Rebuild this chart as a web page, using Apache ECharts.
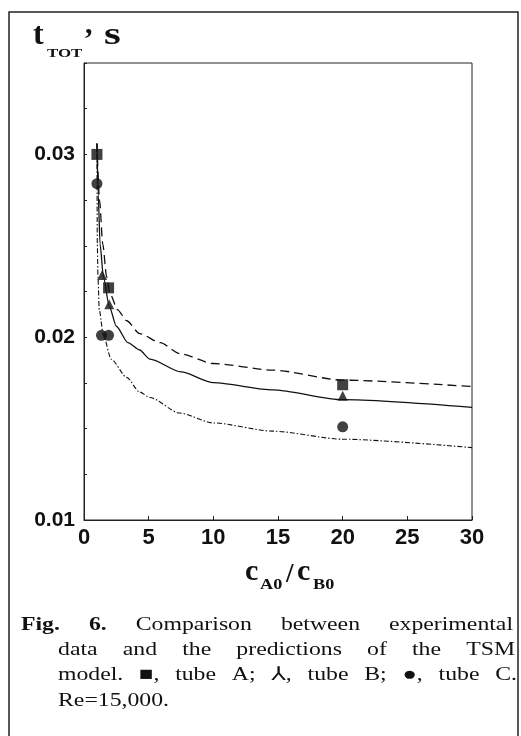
<!DOCTYPE html>
<html>
<head>
<meta charset="utf-8">
<script src="https://cdn.jsdelivr.net/npm/echarts@6/dist/echarts.min.js"></script>
<style>
html,body{margin:0;padding:0;background:#fff;}
#chart{width:521px;height:736px;}
</style>
</head>
<body>
<div id="chart"></div>
<script>
// ---- data ----
const xTicks = [0, 5, 10, 15, 20, 25, 30];
const yTickLabels = ['0.01', '0.02', '0.03'];

// model predictions (lines)
const modelA_x = [1, 1.2, 1.45, 1.75, 2, 2.6, 3.3, 4.3, 5.9, 7.4, 10, 14.6, 20, 30];
const modelA_y = [0.0306, 0.0275, 0.0251, 0.0233, 0.0224, 0.0215, 0.0209, 0.0202, 0.0197, 0.0191, 0.01856, 0.0182, 0.01765, 0.0173];
const modelB_x = [1, 1.1, 1.24, 1.5, 1.95, 2.5, 3.4, 4.3, 5.1, 7.5, 10, 14.6, 20, 30];
const modelB_y = [0.0306, 0.0278, 0.0251, 0.0233, 0.0217, 0.0206, 0.0197, 0.0193, 0.0188, 0.0181, 0.01751, 0.01712, 0.01658, 0.01616];
const modelC_x = [1, 1.03, 1.08, 1.18, 1.5, 2.1, 3.3, 4.3, 5.1, 7.4, 10, 14.6, 20, 30];
const modelC_y = [0.0306, 0.0251, 0.0233, 0.0215, 0.0201, 0.0188, 0.0178, 0.0170, 0.0167, 0.01585, 0.01531, 0.01486, 0.01442, 0.01396];

// experimental data (markers)
const tubeA_x = [1, 1.9, 20];
const tubeA_y = [0.0300, 0.0227, 0.0174];
const tubeB_x = [1.4, 1.95, 20];
const tubeB_y = [0.0234, 0.0218, 0.0168];
const tubeC_x = [1, 1.35, 1.9, 20];
const tubeC_y = [0.0284, 0.0201, 0.0201, 0.0151];

// caption text
const captionLines = [
  [{t:'Fig.', b:true}, {t:'6.', b:true}, {t:'Comparison'}, {t:'between'}, {t:'experimental'}],
  [{t:'data'}, {t:'and'}, {t:'the'}, {t:'predictions'}, {t:'of'}, {t:'the'}, {t:'TSM'}],
  [{t:'model.'}, {t:'\u25A0,'}, {t:'tube'}, {t:'A;'}, {t:'\u2144,'}, {t:'tube'}, {t:'B;'}, {t:'\u25CF,'}, {t:'tube'}, {t:'C.'}],
  [{t:'Re=15,000.'}]
];

function pairs(xs, ys) { return xs.map((x, i) => [x, ys[i]]); }

const INK = '#111';
const SERIF = '"Liberation Serif", "Times New Roman", "DejaVu Serif", serif';
const SANS = '"Liberation Sans", Arial, sans-serif';
const CAP_SX = 1.25;

const chart = echarts.init(document.getElementById('chart'), null, {renderer: 'canvas'});

// ---- caption layout (justified) ----
const mctx = document.createElement('canvas').getContext('2d');
function fontOf(w) { return (w.b ? 'bold ' : '') + '19px ' + SERIF + ', "DejaVu Sans"'; }
const capSpec = [
  {x0: 21, x1: 513, yMid: 625.5, justify: true},
  {x0: 58, x1: 515, yMid: 650.5, justify: true},
  {x0: 58, x1: 517, yMid: 675.5, justify: true},
  {x0: 58, x1: 517, yMid: 701.5, justify: false}
];
const captionEls = [];
captionLines.forEach((words, li) => {
  const sp = capSpec[li];
  const widths = words.map(w => { mctx.font = fontOf(w); return mctx.measureText(w.t).width * CAP_SX; });
  const total = widths.reduce((a, b) => a + b, 0);
  const gap = (sp.justify && words.length > 1) ? (sp.x1 - sp.x0 - total) / (words.length - 1) : 6;
  let x = sp.x0;
  words.forEach((w, i) => {
    captionEls.push({
      type: 'text', x: x, y: sp.yMid, scaleX: CAP_SX, silent: true,
      style: {text: w.t, font: fontOf(w), fill: INK, align: 'left', verticalAlign: 'middle',
              textAlign: 'left', textVerticalAlign: 'middle'}
    });
    x += widths[i] + gap;
  });
});

function txt(text, x, y, font, sx) {
  return {
    type: 'text', x: x, y: y, scaleX: sx || 1, silent: true,
    style: {text: text, font: font, fill: INK, align: 'left', verticalAlign: 'middle',
            textAlign: 'left', textVerticalAlign: 'middle'}
  };
}

const option = {
  backgroundColor: '#fff',
  animation: false,
  grid: {left: 84, top: 63, right: 49, bottom: 216, show: true, borderColor: '#222', borderWidth: 1, backgroundColor: 'transparent'},
  xAxis: {
    type: 'value', min: xTicks[0], max: xTicks[xTicks.length - 1], interval: 5,
    axisLine: {show: true, onZero: false, lineStyle: {color: '#222', width: 1}},
    axisTick: {show: true, inside: true, length: 4, lineStyle: {color: '#222'}},
    axisLabel: {show: true, margin: 7, fontFamily: SANS, fontWeight: 'bold', fontSize: 22, color: INK,
                formatter: v => (xTicks.indexOf(v) >= 0 ? String(v) : '')},
    splitLine: {show: false}
  },
  yAxis: {
    type: 'value', min: 0.01, max: 0.035, interval: 0.0025,
    axisLine: {show: true, onZero: false, lineStyle: {color: '#222', width: 1}},
    axisTick: {show: true, inside: true, length: 3, lineStyle: {color: '#222'}},
    axisLabel: {show: true, margin: 9, fontFamily: SANS, fontWeight: 'bold', fontSize: 21, color: INK,
                formatter: v => {
                  const s = v.toFixed(2);
                  return (Math.abs(v * 100 - Math.round(v * 100)) < 1e-6 && yTickLabels.indexOf(s) >= 0) ? s : '';
                }},
    splitLine: {show: false}
  },
  series: [
    {name: 'TSM tube A', type: 'line', data: pairs(modelA_x, modelA_y), showSymbol: false, symbol: 'none',
     smooth: 0.25, smoothMonotone: 'x', lineStyle: {color: INK, width: 1.3, type: [9, 5]}, z: 2},
    {name: 'TSM tube B', type: 'line', data: pairs(modelB_x, modelB_y), showSymbol: false, symbol: 'none',
     smooth: 0.25, smoothMonotone: 'x', lineStyle: {color: INK, width: 1.3, type: 'solid'}, z: 2},
    {name: 'TSM tube C', type: 'line', data: pairs(modelC_x, modelC_y), showSymbol: false, symbol: 'none',
     smooth: 0.25, smoothMonotone: 'x', lineStyle: {color: INK, width: 1.1, type: [5, 2, 1.5, 2]}, z: 2},
    {name: 'tube A', type: 'scatter', data: pairs(tubeA_x, tubeA_y), symbol: 'rect', symbolSize: 11,
     itemStyle: {color: INK}, z: 3},
    {name: 'tube B', type: 'scatter', data: pairs(tubeB_x, tubeB_y), symbol: 'triangle', symbolSize: 10,
     itemStyle: {color: INK}, z: 3},
    {name: 'tube C', type: 'scatter', data: pairs(tubeC_x, tubeC_y), symbol: 'circle', symbolSize: 11,
     itemStyle: {color: INK}, z: 3}
  ],
  graphic: [
    {type: 'rect', silent: true, z: -1, shape: {x: 9, y: 12, width: 509, height: 780},
     style: {fill: 'none', stroke: '#222', lineWidth: 1.5}},
    // y-axis title: t_TOT , s
    txt('t', 33, 36, 'bold 32px ' + SERIF),
    txt('TOT', 47, 54, 'bold 13px ' + SERIF, 1.3),
    txt(',', 85, 25, 'bold 30px ' + SERIF),
    txt('s', 104, 36, 'bold 32px ' + SERIF, 1.35),
    // x-axis title: c_A0 / c_B0
    txt('c', 245, 572, 'bold 30px ' + SERIF),
    txt('A0', 260, 585, 'bold 14px ' + SERIF, 1.3),
    txt('/', 286, 575, 'bold 27px ' + SERIF),
    txt('c', 297, 572, 'bold 30px ' + SERIF),
    txt('B0', 313, 585, 'bold 14px ' + SERIF, 1.3)
  ].concat(captionEls)
};
chart.setOption(option);
</script>
</body>
</html>
